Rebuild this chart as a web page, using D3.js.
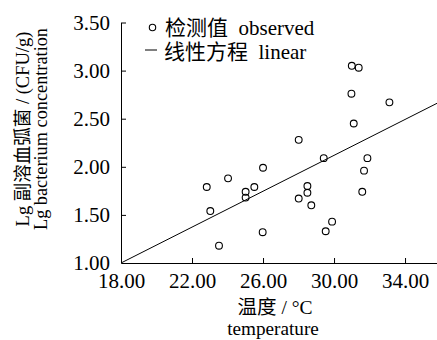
<!DOCTYPE html>
<html><head><meta charset="utf-8">
<script src="https://cdn.jsdelivr.net/npm/d3@7"></script>
<style>body{margin:0;background:#fff}svg{display:block}text{font-family:"Liberation Serif","Noto Sans CJK SC",serif;fill:#000;white-space:pre}</style>
</head><body><div id="chart"></div>
<script>
const temperature = [22.83,23.03,23.52,24.03,25.02,25.02,25.51,26.00,25.98,28.01,28.01,28.50,28.50,28.72,29.42,29.53,29.89,31.00,31.39,30.98,31.11,31.88,31.69,31.59,33.12];
const concentration = [1.79,1.54,1.18,1.88,1.74,1.68,1.79,1.99,1.32,2.28,1.67,1.80,1.73,1.60,2.09,1.33,1.43,3.05,3.03,2.76,2.45,2.09,1.96,1.74,2.67];
const lineX = [18.0, 35.8];
const lineY = [1.00, 2.66];
const xTicks = [18, 22, 26, 30, 34];
const yTicks = [1.0, 1.5, 2.0, 2.5, 3.0, 3.5];
const legendLabels = ["检测值  observed", "线性方程  linear"];

const W = 437, H = 340;
const svg = d3.select("#chart").append("svg").attr("width", W).attr("height", H);
const x = d3.scaleLinear().domain([18, 35.8]).range([121, 437]);
const y = d3.scaleLinear().domain([1, 3.5]).range([263, 22.5]);
const fs = 21;

const gx = svg.append("g").attr("transform", `translate(0,${y(1)})`)
  .call(d3.axisBottom(x).tickValues(xTicks).tickFormat(d3.format(".2f")).tickSizeInner(-5).tickSizeOuter(0).tickPadding(10));
const gy = svg.append("g").attr("transform", `translate(${x(18)},0)`)
  .call(d3.axisLeft(y).tickValues(yTicks).tickFormat(d3.format(".2f")).tickSizeInner(-5).tickSizeOuter(0).tickPadding(11));
[gx, gy].forEach(g => {
  g.selectAll("path,line").attr("stroke", "#000").attr("stroke-width", 1);
  g.selectAll("text").attr("font-size", fs).attr("font-family", "Liberation Serif");
});
gy.selectAll(".tick").filter(d => d === 1).select("line").remove();
gx.selectAll(".tick").filter(d => d === 18).select("line").remove();

svg.append("line")
  .attr("x1", x(lineX[0])).attr("y1", y(lineY[0]))
  .attr("x2", x(lineX[1])).attr("y2", y(lineY[1]))
  .attr("stroke", "#000").attr("stroke-width", 1);

svg.append("g").selectAll("circle").data(temperature).join("circle")
  .attr("cx", d => x(d)).attr("cy", (d, i) => y(concentration[i]))
  .attr("r", 3.4).attr("fill", "none").attr("stroke", "#000").attr("stroke-width", 1.1);

// legend
svg.append("circle").attr("cx", 152.5).attr("cy", 27.5).attr("r", 3.2).attr("fill", "none").attr("stroke", "#000").attr("stroke-width", 1.1);
svg.append("text").attr("x", 165).attr("y", 34.5).attr("font-size", fs).text(legendLabels[0]);
svg.append("line").attr("x1", 145).attr("x2", 157).attr("y1", 50).attr("y2", 50).attr("stroke", "#000");
svg.append("text").attr("x", 164).attr("y", 59).attr("font-size", fs).text(legendLabels[1]);

// axis titles
svg.append("text").attr("x", 275).attr("y", 314).attr("text-anchor", "middle").attr("font-size", 19.5).text("温度 / °C");
svg.append("text").attr("x", 273).attr("y", 335).attr("text-anchor", "middle").attr("font-size", 19.2).text("temperature");
svg.append("text").attr("transform", "translate(28.5,129) rotate(-90)").attr("text-anchor", "middle").attr("font-size", 18.5).text("Lg 副溶血弧菌 / (CFU/g)");
svg.append("text").attr("transform", "translate(46.5,129) rotate(-90)").attr("text-anchor", "middle").attr("font-size", 18.3).text("Lg bacterium concentration");
</script></body></html>
